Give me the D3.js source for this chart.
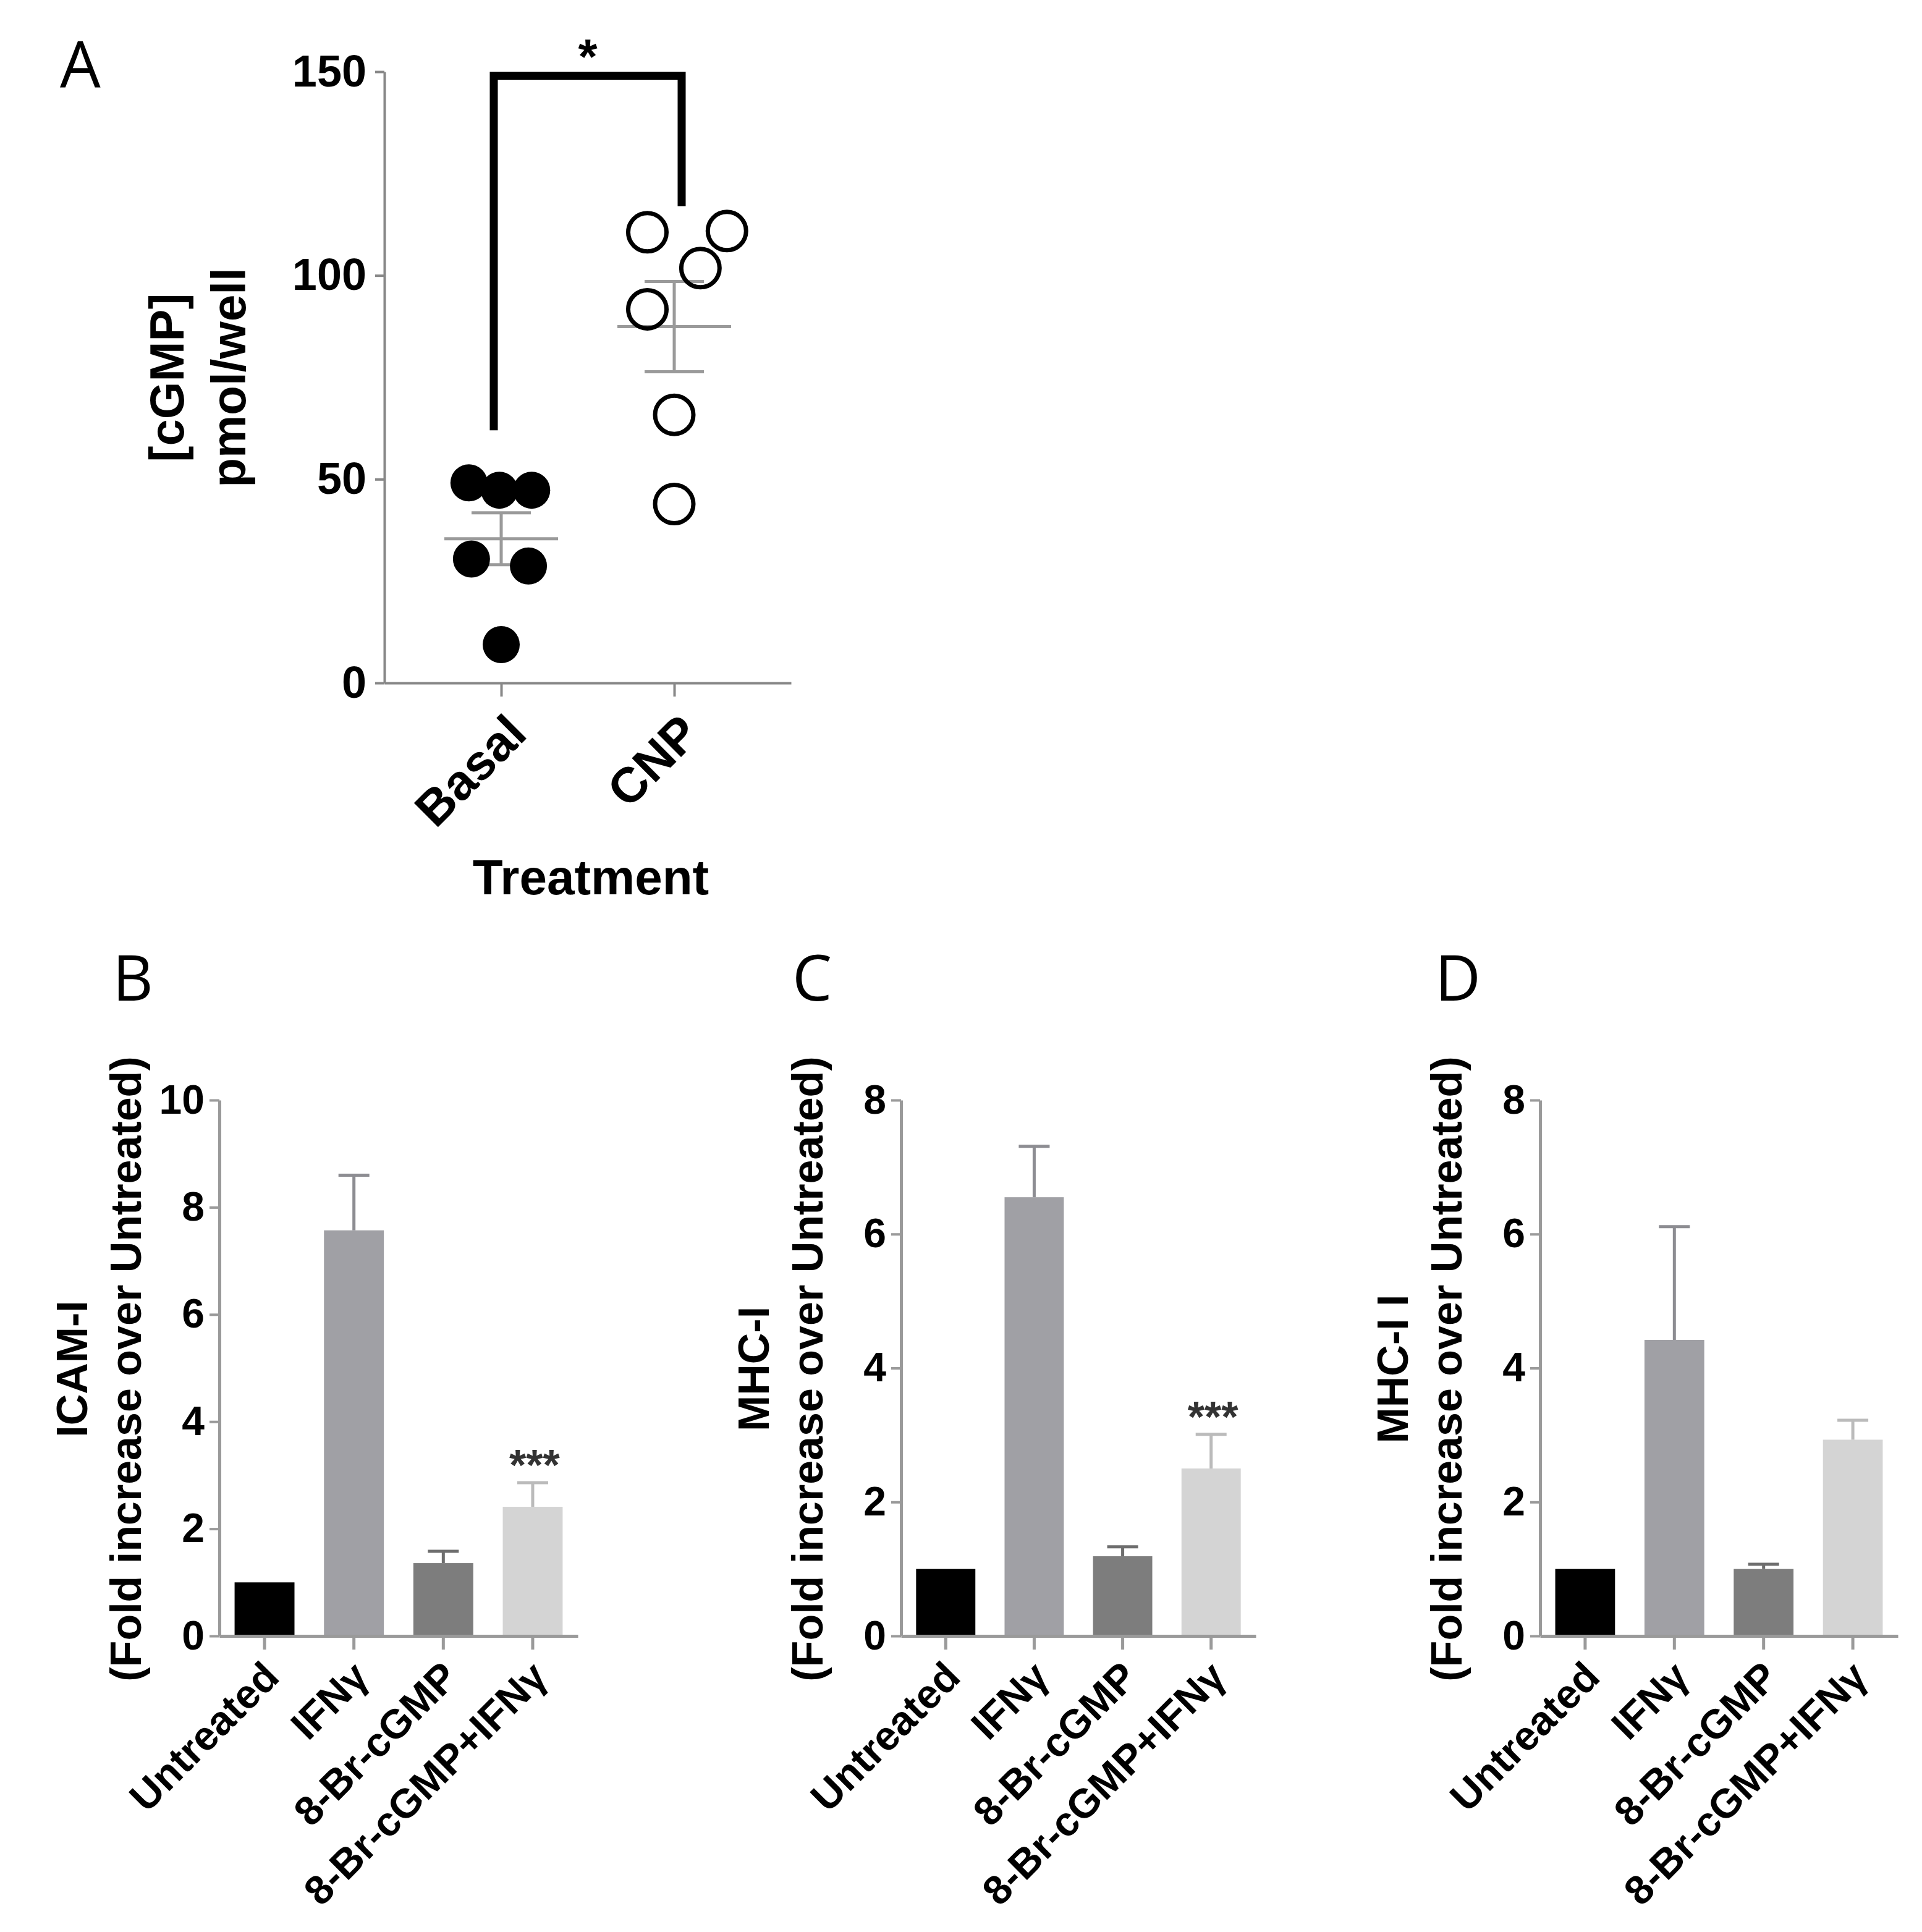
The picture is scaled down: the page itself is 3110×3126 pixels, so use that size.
<!DOCTYPE html>
<html><head><meta charset="utf-8">
<script src="https://cdn.jsdelivr.net/npm/d3@7"></script>
<style>body{margin:0;background:#fff}</style>
</head><body>
<svg id="chart" width="3110" height="3126" xmlns="http://www.w3.org/2000/svg"></svg>
<script>
// ---------- Panel A data ----------
const groupsA = ["Basal", "CNP"];
const basalValues = [49.1, 47.3, 47.3, 30.4, 28.7, 9.4];
const cnpValues = [110.6, 110.9, 101.8, 91.7, 65.8, 43.9];
const basalJitter = [-0.9, -0.05, 0.85, -0.83, 0.76, 0];
const cnpJitter = [-0.75, 1.47, 0.73, -0.75, 0, 0];
const ticksA = [0, 50, 100, 150];
const sigALevels = [62, 149, 117]; // left foot, bracket top, right foot
const sigALabel = "*";

// ---------- Panels B-D data ----------
const treatments = ["Untreated", "IFNγ", "8-Br-cGMP", "8-Br-cGMP+IFNγ"];
const icamMeans = [1.0, 7.57, 1.36, 2.41];
const icamUpper = [1.0, 8.60, 1.58, 2.86];
const mhc1Means = [1.0, 6.55, 1.19, 2.50];
const mhc1Upper = [1.0, 7.31, 1.33, 3.01];
const mhc2Means = [1.0, 4.42, 1.00, 2.93];
const mhc2Upper = [1.0, 6.11, 1.07, 3.22];
const ticksB = [0, 2, 4, 6, 8, 10];
const ticksCD = [0, 2, 4, 6, 8];
const sigB = ["", "", "", "***"];
const sigC = ["", "", "", "***"];
const sigD = ["", "", "", ""];
const barColors = ["#000000", "#a0a0a5", "#7d7d7d", "#d4d4d4"];

const FONT = "'Liberation Sans', Arial, Helvetica, sans-serif";
const LETTER_FONT = "'Open Sans', 'DejaVu Sans', sans-serif";
const svg = d3.select("#chart");
svg.append("rect").attr("width", 3110).attr("height", 3126).attr("fill", "#fff");

// ================= Panel A =================
(function () {
  const axisX = 622, y0 = 1105, yTop = 116, xEnd = 1280;
  const y = d3.scaleLinear().domain([0, 150]).range([y0, yTop]);
  const x = d3.scalePoint().domain(groupsA).range([axisX, xEnd]).padding(0.675);
  const g = svg.append("g");
  const axisColor = "#888";

  g.append("text").attr("x", 97).attr("y", 142).attr("font-family", LETTER_FONT)
    .attr("font-size", 104).attr("fill", "#000").text("A");

  // y axis
  const ya = g.append("g").attr("transform", `translate(${axisX},0)`)
    .call(d3.axisLeft(y).tickValues(ticksA).tickSize(15).tickSizeOuter(0).tickPadding(14));
  ya.select(".domain").attr("stroke", axisColor).attr("stroke-width", 4);
  ya.selectAll(".tick line").attr("stroke", axisColor).attr("stroke-width", 4);
  ya.selectAll(".tick text").attr("font-family", FONT).attr("font-weight", "bold")
    .attr("font-size", 72).attr("fill", "#000");

  // x axis
  const xa = g.append("g").attr("transform", `translate(0,${y0})`)
    .call(d3.axisBottom(x).tickSize(22).tickSizeOuter(0));
  xa.select(".domain").attr("stroke", axisColor).attr("stroke-width", 4);
  xa.selectAll(".tick line").attr("stroke", axisColor).attr("stroke-width", 4);
  xa.selectAll(".tick text").remove();
  groupsA.forEach(gname => {
    const cx = x(gname) + 45, cy = y0 + 86;
    g.append("text").attr("transform", `translate(${cx},${cy}) rotate(-45)`)
      .attr("text-anchor", "end").attr("font-family", FONT).attr("font-weight", "bold")
      .attr("font-size", 80).attr("fill", "#000").text(gname);
  });
  g.append("text").attr("x", 956).attr("y", 1447).attr("text-anchor", "middle")
    .attr("font-family", FONT).attr("font-weight", "bold").attr("font-size", 80).text("Treatment");

  // y title
  [["[cGMP]", 297], ["pmol/well", 397]].forEach(([t, bx]) => {
    g.append("text").attr("transform", `translate(${bx},611) rotate(-90)`)
      .attr("text-anchor", "middle").attr("font-family", FONT).attr("font-weight", "bold")
      .attr("font-size", 78).attr("fill", "#000").text(t);
  });

  // mean +/- SEM
  const sets = [[basalValues, "Basal"], [cnpValues, "CNP"]];
  const errColor = "#9a9a9a";
  sets.forEach(([vals, name]) => {
    const m = d3.mean(vals), sem = d3.deviation(vals) / Math.sqrt(vals.length);
    const cx = x(name);
    g.append("line").attr("x1", cx - 92).attr("x2", cx + 92).attr("y1", y(m)).attr("y2", y(m))
      .attr("stroke", errColor).attr("stroke-width", 5);
    g.append("line").attr("x1", cx).attr("x2", cx).attr("y1", y(m - sem)).attr("y2", y(m + sem))
      .attr("stroke", errColor).attr("stroke-width", 5);
    [m - sem, m + sem].forEach(v => g.append("line").attr("x1", cx - 48).attr("x2", cx + 48)
      .attr("y1", y(v)).attr("y2", y(v)).attr("stroke", errColor).attr("stroke-width", 5));
  });

  // points
  const dot = 58;
  g.selectAll("circle.basal").data(basalValues).join("circle").attr("class", "basal")
    .attr("cx", (d, i) => x("Basal") + basalJitter[i] * dot).attr("cy", d => y(d))
    .attr("r", 30).attr("fill", "#000");
  g.selectAll("circle.cnp").data(cnpValues).join("circle").attr("class", "cnp")
    .attr("cx", (d, i) => x("CNP") + cnpJitter[i] * dot).attr("cy", d => y(d))
    .attr("r", 31).attr("fill", "none").attr("stroke", "#000").attr("stroke-width", 7);

  // significance bracket
  const lx = x("Basal") - 12, rx = x("CNP") + 12;
  g.append("path").attr("d", d3.line()([[lx, y(sigALevels[0])], [lx, y(sigALevels[1])],
      [rx, y(sigALevels[1])], [rx, y(sigALevels[2])]]))
    .attr("fill", "none").attr("stroke", "#000").attr("stroke-width", 13).attr("stroke-linejoin", "miter");
  g.append("text").attr("x", (lx + rx) / 2).attr("y", y(sigALevels[1]) - 4).attr("text-anchor", "middle")
    .attr("font-family", FONT).attr("font-weight", "bold").attr("font-size", 80).text(sigALabel);
})();

// ================= Panels B-D =================
function barPanel(opts) {
  const { letter, letterX, axisX, xEnd, yMax, ticks, means, upper, sig, title } = opts;
  const y0 = 2647, yTop = 1780;
  const y = d3.scaleLinear().domain([0, yMax]).range([y0, yTop]);
  const x = d3.scaleBand().domain(treatments).range([axisX, xEnd]).paddingInner(0.33).paddingOuter(0.17);
  const g = svg.append("g");
  const axisColor = "#9a9a9a";

  g.append("text").attr("x", letterX).attr("y", 1619).attr("font-family", LETTER_FONT)
    .attr("font-size", 102).attr("fill", "#000").text(letter);

  // bars
  g.selectAll("rect.bar").data(means).join("rect").attr("class", "bar")
    .attr("x", (d, i) => x(treatments[i])).attr("width", x.bandwidth())
    .attr("y", d => y(d)).attr("height", d => y0 - y(d))
    .attr("fill", (d, i) => barColors[i]);

  // error bars (upper only)
  means.forEach((m, i) => {
    if (upper[i] <= m) return;
    const cx = x(treatments[i]) + x.bandwidth() / 2;
    const c = d3.color(barColors[i]).darker(0.35).formatHex();
    g.append("line").attr("x1", cx).attr("x2", cx).attr("y1", y(m)).attr("y2", y(upper[i]))
      .attr("stroke", c).attr("stroke-width", 5);
    g.append("line").attr("x1", cx - 25).attr("x2", cx + 25).attr("y1", y(upper[i])).attr("y2", y(upper[i]))
      .attr("stroke", c).attr("stroke-width", 5);
    if (sig[i]) {
      g.append("text").attr("x", cx + 3).attr("y", y(upper[i]) - 4).attr("text-anchor", "middle")
        .attr("font-family", FONT).attr("font-weight", "bold").attr("font-size", 70)
        .attr("fill", "#333").text(sig[i]);
    }
  });

  // axes
  const ya = g.append("g").attr("transform", `translate(${axisX},0)`)
    .call(d3.axisLeft(y).tickValues(ticks).tickSize(16).tickSizeOuter(0).tickPadding(8));
  ya.select(".domain").attr("stroke", axisColor).attr("stroke-width", 5);
  ya.selectAll(".tick line").attr("stroke", axisColor).attr("stroke-width", 4);
  ya.selectAll(".tick text").attr("font-family", FONT).attr("font-weight", "bold")
    .attr("font-size", 66).attr("fill", "#000");

  const xa = g.append("g").attr("transform", `translate(0,${y0})`)
    .call(d3.axisBottom(x).tickSize(22).tickSizeOuter(0));
  xa.select(".domain").attr("stroke", axisColor).attr("stroke-width", 5);
  xa.selectAll(".tick line").attr("stroke", axisColor).attr("stroke-width", 5);
  xa.selectAll(".tick text").remove();
  treatments.forEach(t => {
    const ax = x(t) + x.bandwidth() / 2 + 27, ay = y0 + 70;
    g.append("text").attr("transform", `translate(${ax},${ay}) rotate(-45)`)
      .attr("text-anchor", "end").attr("font-family", FONT).attr("font-weight", "bold")
      .attr("font-size", 66).attr("fill", "#000").text(t);
  });

  // y title
  [[title, axisX - 214], ["(Fold increase over Untreated)", axisX - 127]].forEach(([t, bx]) => {
    g.append("text").attr("transform", `translate(${bx},2215) rotate(-90)`)
      .attr("text-anchor", "middle").attr("font-family", FONT).attr("font-weight", "bold")
      .attr("font-size", 70).attr("fill", "#000").text(t);
  });
}

barPanel({ letter: "B", letterX: 182, axisX: 355, xEnd: 935, yMax: 10, ticks: ticksB,
  means: icamMeans, upper: icamUpper, sig: sigB, title: "ICAM-I" });
barPanel({ letter: "C", letterX: 1282, axisX: 1458, xEnd: 2032, yMax: 8, ticks: ticksCD,
  means: mhc1Means, upper: mhc1Upper, sig: sigC, title: "MHC-I" });
barPanel({ letter: "D", letterX: 2322, axisX: 2492, xEnd: 3071, yMax: 8, ticks: ticksCD,
  means: mhc2Means, upper: mhc2Upper, sig: sigD, title: "MHC-I I" });
</script>
</body></html>
